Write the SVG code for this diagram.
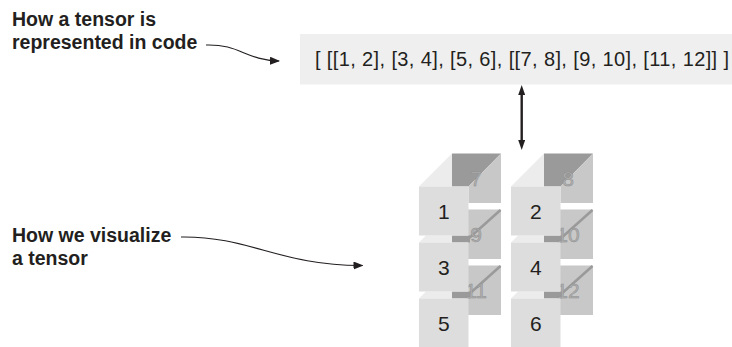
<svg xmlns="http://www.w3.org/2000/svg" width="732" height="347" viewBox="0 0 732 347">
  <style>
    .lbl { font-family: "Liberation Sans", Arial, sans-serif; font-weight: bold; font-size: 19.5px; fill: #231f20; }
    .code { font-family: "Liberation Sans", Arial, sans-serif; font-size: 20px; fill: #231f20; }
    .num { font-family: "Liberation Sans", Arial, sans-serif; font-size: 21px; fill: #231f20; text-anchor: middle; }
    .bnum { font-family: "Liberation Sans", Arial, sans-serif; font-size: 21px; fill: #b0b0b0; stroke: #8e8e8e; stroke-width: 0.5; text-anchor: middle; }
    .front { fill: #dddddd; }
    .top { fill: #ececec; }
    .dark { fill: #9a9a9a; }
    .side { fill: #c8c8c8; }
    .edge { stroke: #9a9a9a; stroke-width: 2.5; fill: none; }
    .conn { stroke: #231f20; fill: none; }
  </style>
  <defs>
    <marker id="ah" viewBox="0 0 10 8" refX="9" refY="4" markerWidth="10" markerHeight="8" markerUnits="userSpaceOnUse" orient="auto">
      <path d="M0,0 L10,4 L0,8 z" fill="#231f20"/>
    </marker>
    <marker id="ah2" viewBox="0 0 10 7" refX="3" refY="3.5" markerWidth="10" markerHeight="7" markerUnits="userSpaceOnUse" orient="auto-start-reverse">
      <path d="M0,0 L10,3.5 L0,7 z" fill="#231f20"/>
    </marker>
    <g id="col">
      <!-- row 0 top and side -->
      <polygon class="top" points="0,186.5 33,153.5 33,186.5"/>
      <polygon class="dark" points="33,153.5 82,153.5 49.5,186.5 33,186.5"/>
      <polygon class="side" points="49.5,186.5 82,153.5 82,203 49.5,203"/>
      <!-- row 1 back -->
      <rect class="side" x="49" y="209.5" width="33" height="49.5"/>
      <polygon class="top" points="0,242.5 7,235.5 33,235.5 33,242.5"/>
      <rect class="dark" x="33" y="235.5" width="18" height="7"/>
      <line class="edge" x1="81.5" y1="210" x2="48.5" y2="239.5"/>
      <!-- row 2 back -->
      <rect class="side" x="49" y="265.5" width="33" height="49.5"/>
      <polygon class="top" points="0,298.5 7,291.5 33,291.5 33,298.5"/>
      <rect class="dark" x="33" y="291.5" width="18" height="7"/>
      <line class="edge" x1="81.5" y1="266" x2="48.5" y2="295.5"/>
    </g>
  </defs>

  <g id="code-box">
    <rect x="300" y="34" width="432" height="50.5" fill="#efeff0"/>
    <text class="code" x="315" y="65.5" textLength="414" lengthAdjust="spacing">[ [[1, 2], [3, 4], [5, 6], [[7, 8], [9, 10], [11, 12]] ]</text>
  </g>

  <g id="label-code">
    <text class="lbl" x="12" y="26">How a tensor is</text>
    <text class="lbl" x="12" y="48.5">represented in code</text>
  </g>

  <g id="label-visual">
    <text class="lbl" x="12" y="241.5">How we visualize</text>
    <text class="lbl" x="12" y="264.5">a tensor</text>
  </g>

  <g id="tensor">
    <g id="column-left" transform="translate(419,0)">
      <use href="#col"/>
      <g id="cube-7"><text class="bnum" x="57" y="185.5">7</text></g>
      <g id="cube-9"><text class="bnum" x="57" y="241.5">9</text></g>
      <g id="cube-11"><text class="bnum" x="57" y="297.5">11</text></g>
      <g id="cube-1"><rect class="front" x="0" y="186.5" width="49.5" height="49"/><text class="num" x="24.75" y="219">1</text></g>
      <g id="cube-3"><rect class="front" x="0" y="242.5" width="49.5" height="49"/><text class="num" x="24.75" y="275">3</text></g>
      <g id="cube-5"><rect class="front" x="0" y="298.5" width="49.5" height="49"/><text class="num" x="24.75" y="331">5</text></g>
    </g>
    <g id="column-right" transform="translate(511,0)">
      <use href="#col"/>
      <g id="cube-8"><text class="bnum" x="57" y="185.5">8</text></g>
      <g id="cube-10"><text class="bnum" x="57" y="241.5">10</text></g>
      <g id="cube-12"><text class="bnum" x="57" y="297.5">12</text></g>
      <g id="cube-2"><rect class="front" x="0" y="186.5" width="49.5" height="49"/><text class="num" x="24.75" y="219">2</text></g>
      <g id="cube-4"><rect class="front" x="0" y="242.5" width="49.5" height="49"/><text class="num" x="24.75" y="275">4</text></g>
      <g id="cube-6"><rect class="front" x="0" y="298.5" width="49.5" height="49"/><text class="num" x="24.75" y="331">6</text></g>
    </g>
  </g>

  <g id="connectors">
    <path class="conn" stroke-width="1.1" d="M206,45 C240,44 245,60 279,61" marker-end="url(#ah)"/>
    <path class="conn" stroke-width="1.1" d="M181,237 C250,236 280,266 362.5,265.5" marker-end="url(#ah)"/>
    <line class="conn" stroke-width="2.4" x1="521.7" y1="92" x2="521.7" y2="143" marker-start="url(#ah2)" marker-end="url(#ah2)"/>
  </g>
</svg>
